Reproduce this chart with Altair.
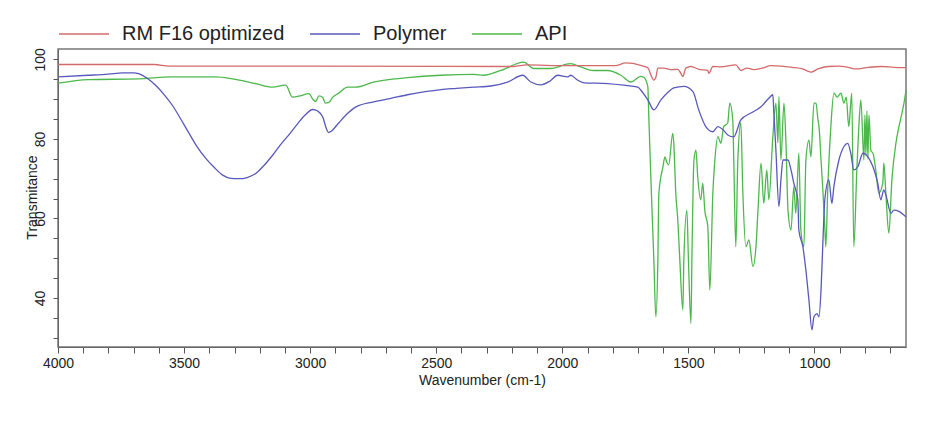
import altair as alt
import pandas as pd

# ---- data (wavenumber in cm-1, transmittance in %) ----
wn_rm = [4000, 3618, 3558, 2995, 2192, 2141, 1991, 1790, 1749, 1689, 1660, 1649, 1637, 1629,
         1621, 1597, 1570, 1542, 1530, 1522, 1510, 1490, 1459, 1423, 1419, 1403, 1371, 1312,
         1292, 1268, 1240, 1207, 1173, 1087, 1047, 1014, 986, 946, 906, 866, 836, 785, 735,
         685, 637]
t_rm = [98.7, 98.7, 98.3, 98.3, 98.2, 98.6, 98.4, 98.4, 99.1, 98.5, 97.8, 96.1, 94.8, 95.5,
        97.8, 97.8, 97.4, 97.5, 96.5, 95.7, 97.8, 98.2, 97.5, 97.2, 96.5, 98.2, 98.1, 98.6,
        97.2, 97.8, 97.4, 97.8, 98.4, 98.0, 97.6, 96.8, 97.6, 98.2, 98.3, 98.0, 97.6, 98.0,
        98.2, 98.0, 97.9]

wn_poly = [4000, 3879, 3800, 3744, 3700, 3680, 3645, 3613, 3580, 3546, 3515, 3483, 3450, 3414,
           3380, 3347, 3315, 3284, 3250, 3216, 3185, 3149, 3118, 3086, 3050, 3020, 2990, 2970,
           2950, 2935, 2927, 2915, 2887, 2850, 2820, 2748, 2680, 2614, 2550, 2482, 2420, 2351,
           2284, 2217, 2157, 2125, 2085, 2050, 2018, 1978, 1967, 1940, 1914, 1820, 1756, 1700,
           1689, 1660, 1637, 1609, 1580, 1558, 1518, 1482, 1459, 1431, 1403, 1383, 1363, 1344,
           1320, 1292, 1252, 1212, 1181, 1165, 1161, 1153, 1141, 1133, 1125, 1105, 1093, 1082,
           1066, 1062, 1046, 1034, 1022, 1010, 1002, 990, 982, 974, 966, 959, 943, 931, 923,
           903, 883, 868, 856, 844, 828, 808, 788, 768, 749, 737, 725, 717, 697, 685, 665, 637]
t_poly = [95.6, 96.0, 96.3, 96.6, 96.6, 96.4, 95.2, 93.5, 91.2, 88.4, 85.2, 81.7, 78.2, 75.1,
          72.8, 70.9, 70.1, 70.0, 70.3, 71.3, 73.2, 75.9, 78.5, 80.9, 83.8, 86.0, 87.4, 87.0,
          85.5, 82.5, 81.6, 82.0, 84.0, 86.5, 88.0, 89.3, 90.2, 91.1, 91.8, 92.4, 92.7, 93.0,
          93.3, 94.3, 96.0, 94.3, 93.6, 94.5, 96.0, 95.6, 96.0, 94.8, 94.1, 93.9, 93.5, 93.0,
          92.3, 89.7, 87.3, 89.8, 91.8, 92.8, 93.2, 91.9, 87.3, 83.1, 81.8, 83.1, 82.3, 81.0,
          80.5, 84.8, 86.5, 88.1, 90.2, 91.1, 86.5, 77.2, 63.0, 69.7, 74.7, 74.7, 72.2, 68.9,
          64.7, 57.1, 52.9, 47.0, 39.5, 32.0, 35.3, 36.1, 35.3, 42.0, 55.0, 64.7, 69.7, 63.8, 68.0,
          74.7, 78.1, 78.9, 76.4, 72.2, 73.0, 76.4, 75.5, 73.0, 68.9, 64.7, 67.2, 66.0, 61.3,
          62.1, 61.8, 60.4]

wn_api = [4000, 3879, 3680, 3546, 3375, 3308, 3216, 3149, 3097, 3070, 3040, 3005, 2990, 2978,
          2965, 2950, 2940, 2927, 2910, 2887, 2851, 2820, 2748, 2614, 2482, 2351, 2311, 2244,
          2153, 2114, 2046, 1967, 1927, 1876, 1820, 1768, 1728, 1689, 1677, 1661, 1657, 1649,
          1637, 1629, 1621, 1617, 1601, 1593, 1585, 1578, 1562, 1558, 1550, 1542, 1534, 1522,
          1518, 1506, 1500, 1490, 1486, 1478, 1470, 1463, 1451, 1443, 1435, 1423, 1415, 1403,
          1395, 1383, 1371, 1360, 1344, 1336, 1324, 1320, 1312, 1304, 1292, 1284, 1272, 1260,
          1244, 1232, 1224, 1212, 1201, 1189, 1181, 1165, 1153, 1145, 1141, 1133, 1121, 1113,
          1105, 1093, 1082, 1074, 1062, 1054, 1042, 1034, 1022, 1014, 1002, 994, 986, 982, 974,
          966, 959, 955, 947, 935, 923, 910, 895, 883, 874, 864, 852, 844, 832, 824, 816, 804,
          800, 796, 792, 788, 784, 776, 768, 757, 745, 729, 725, 717, 705, 693, 677, 665, 653,
          645, 637]
t_api = [94.0, 94.9, 95.1, 95.6, 95.6, 95.1, 93.9, 93.0, 93.5, 90.5, 90.8, 91.4, 90.0, 89.4,
         90.8, 90.4, 89.0, 89.1, 90.5, 91.5, 93.0, 93.0, 94.3, 95.4, 96.0, 96.2, 96.0, 97.2,
         99.3, 97.7, 97.7, 98.9, 98.1, 97.2, 97.2, 96.0, 94.3, 95.7, 95.5, 93.2, 85.6, 70.5,
         49.6, 35.3, 49.6, 66.4, 73.0, 75.5, 74.0, 73.5, 81.4, 79.0, 66.4, 59.6, 49.6, 37.0,
         49.6, 62.1, 50.0, 33.6, 50.0, 74.7, 77.2, 70.5, 64.7, 68.9, 62.1, 57.9, 42.0, 66.4,
         74.7, 80.6, 78.9, 83.1, 84.0, 89.0, 84.8, 74.7, 52.9, 74.7, 84.0, 66.4, 52.9, 54.6,
         47.9, 52.9, 62.1, 73.9, 63.8, 72.2, 64.7, 80.6, 89.0, 79.0, 90.6, 74.7, 89.0, 78.9,
         62.1, 57.1, 68.0, 61.3, 76.4, 57.1, 52.9, 74.7, 79.7, 75.5, 89.0, 89.0, 84.8, 83.1, 74.7,
         66.4, 57.9, 52.9, 68.0, 83.1, 91.5, 90.5, 91.5, 89.0, 90.5, 83.1, 91.5, 52.9, 72.2,
         83.1, 89.8, 74.7, 86.0, 76.0, 87.0, 75.0, 86.0, 77.0, 76.4, 72.2, 66.4, 68.9, 74.0,
         66.4, 56.3, 69.7, 78.9, 83.1, 86.5, 89.0, 92.3]

series_names = ["RM F16 optimized", "Polymer", "API"]
series_colors = ["#d46a6a", "#5858bd", "#4cb84c"]

x_ticks = list(range(700, 4001, 100))
y_ticks = list(range(30, 101, 5))

rows = []
for name, wns, ts in [("API", wn_api, t_api), ("Polymer", wn_poly, t_poly),
                      ("RM F16 optimized", wn_rm, t_rm)]:
    for w, t in zip(wns, ts):
        rows.append({"series": name, "wavenumber": w, "T": t})
df = pd.DataFrame(rows)

FONT = "Liberation Sans"

chart = alt.Chart(df).mark_line(strokeWidth=1.3, interpolate="monotone").encode(
    x=alt.X("wavenumber:Q", title="Wavenumber (cm-1)",
            scale=alt.Scale(domain=[637, 4000], reverse=True, nice=False, zero=False),
            axis=alt.Axis(values=x_ticks, format="d",
                          labelExpr="datum.value % 500 == 0 ? datum.label : ''",
                          grid=False, tickSize=6, tickColor="#555", domainColor="#666",
                          labelFont=FONT, labelFontSize=14, labelColor="#222",
                          labelPadding=3, labelFlush=False, labelOverlap=False,
                          titleFont=FONT, titleFontSize=14, titleFontWeight="normal",
                          titleColor="#222", titlePadding=3)),
    y=alt.Y("T:Q", title="Transmitance",
            scale=alt.Scale(domain=[27.7, 102.6], nice=False, zero=False),
            axis=alt.Axis(values=y_ticks,
                          labelExpr="datum.value % 20 == 0 ? datum.label : ''",
                          grid=False, tickSize=5, tickColor="#555", domainColor="#666",
                          labelFont=FONT, labelFontSize=14, labelColor="#222",
                          labelAngle=270, labelAlign="center", labelBaseline="middle",
                          labelPadding=13, labelFlush=False, labelOverlap=False,
                          titleFont=FONT, titleFontSize=14, titleFontWeight="normal",
                          titleColor="#222", titleAngle=270, titleX=-26, titleY=148,
                          titleAlign="center", titleBaseline="middle")),
    color=alt.Color("series:N",
                    scale=alt.Scale(domain=series_names, range=series_colors),
                    legend=alt.Legend(title=None, orient="none", legendX=0, legendY=-41,
                                      direction="horizontal", symbolType="stroke",
                                      symbolSize=2500, symbolStrokeWidth=1.5,
                                      labelFont=FONT, labelFontSize=20, labelColor="#222",
                                      labelLimit=400, labelOffset=12, columnPadding=22,
                                      padding=0)),
).properties(
    width=848, height=298,
    autosize=alt.AutoSizeParams(type="none"),
    padding={"left": 50, "top": 41, "right": 15, "bottom": 60},
    background="white",
).configure_view(stroke="#777", strokeWidth=1.5)

chart.save("out.html", embed_options={"renderer": "svg", "actions": False})
